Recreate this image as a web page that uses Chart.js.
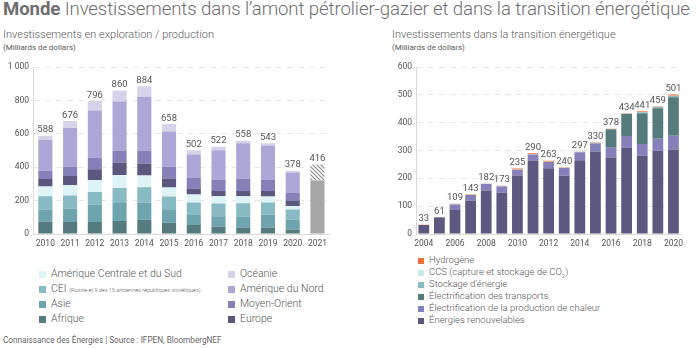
<!DOCTYPE html>
<html>
<head>
<meta charset="utf-8">
<title>Monde - Investissements amont pétrolier-gazier et transition énergétique</title>
<script src="https://cdn.jsdelivr.net/npm/chart.js@4"></script>
<style>
  body { margin:0; background:#fff; font-family:Roboto, sans-serif; color:#606060; width:700px; height:349px; position:relative; overflow:hidden; }
  h1 { position:absolute; left:3px; top:-2px; margin:0; font-size:18.6px; font-weight:300; color:#6e6e6e; white-space:nowrap; letter-spacing:-0.1px; }
  h1 b { font-weight:700; }
  .sub { position:absolute; font-size:11px; font-weight:300; color:#5a5a5a; white-space:nowrap; }
  .unit { position:absolute; font-size:8px; color:#5a5a5a; white-space:nowrap; }
  .box { position:absolute; }
  .legend { position:absolute; font-weight:300; color:#555; white-space:nowrap; }
  .legend i { position:absolute; display:block; }
  .note { position:absolute; left:3px; top:335px; font-size:8.2px; color:#666; white-space:nowrap; }
</style>
</head>
<body>

<h1><b>Monde</b> Investissements dans l’amont pétrolier-gazier et dans la transition énergétique</h1>

<div class="sub" style="left:3px; top:28px;">Investissements en exploration / production</div>
<div class="unit" style="left:3px; top:43px;">(Milliards de dollars)</div>
<div class="sub" style="left:392px; top:28px;">Investissements dans la transition énergétique</div>
<div class="unit" style="left:392px; top:43px;">(Milliards de dollars)</div>

<div class="box" style="left:0; top:56px; width:332px; height:198px;"><canvas id="left"></canvas></div>
<div class="box" style="left:350px; top:56px; width:338px; height:198px;"><canvas id="right"></canvas></div>

<div class="legend" id="legLeft" style="left:0; top:267px; width:350px; height:64px; font-size:10.5px;"></div>
<div class="legend" id="legRight" style="left:350px; top:254px; width:350px; height:80px; font-size:9.5px;"></div>

<div class="note">Connaissance des Énergies | Source : IFPEN, BloombergNEF</div>

<script>
// ---------- exploration / production (left) ----------
const yearsEP = ["2010","2011","2012","2013","2014","2015","2016","2017","2018","2019","2020","2021"];
const afrique   = [74, 72, 72, 78, 86, 68, 54, 44, 38, 38, 26, null];
const asie      = [72, 80, 104, 108, 102, 76, 60, 62, 66, 78, 60, null];
const cei       = [80, 78, 76, 90, 92, 80, 74, 76, 80, 72, 60, null];
const ameriqueCS = [58, 62, 72, 78, 70, 54, 48, 44, 42, 36, 22, null];
const europe    = [46, 56, 64, 74, 72, 54, 36, 32, 32, 34, 30, null];
const moyenOrient = [48, 56, 68, 72, 78, 70, 66, 68, 74, 68, 50, null];
const ameriqueN = [186, 230, 284, 294, 322, 212, 138, 176, 212, 204, 120, null];
const oceanie   = [24, 42, 56, 66, 62, 44, 26, 20, 14, 13, 10, null];
const total2021 = [null, null, null, null, null, null, null, null, null, null, null, 320];
const prevu2021 = [null, null, null, null, null, null, null, null, null, null, null, 96];
const ticksEP = [0, 200, 400, 600, 800, 1000];

// ---------- transition énergétique (right) ----------
const yearsTE = ["2004","2005","2006","2007","2008","2009","2010","2011","2012","2013","2014","2015","2016","2017","2018","2019","2020"];
const renouvelables = [32, 59, 86, 120, 156, 149, 210, 264, 236, 209, 265, 296, 275, 311, 281, 299, 304];
const chaleur       = [0, 1, 20, 20, 24, 22, 21, 22, 23, 28, 29, 29, 35, 41, 42, 43, 49];
const transports    = [0, 0, 0, 0, 0, 0, 0, 0, 0, 0, 0, 1, 66, 79, 111, 110, 138];
const stockage      = [0, 0, 0, 0, 0, 0, 0, 0, 0, 0, 1, 1, 0, 0, 3, 4, 5];
const ccs           = [0, 0, 1, 1, 1, 1, 1, 1, 1, 1, 1, 1, 1, 1, 1, 1, 1];
const hydrogene     = [1, 1, 2, 2, 1, 1, 3, 3, 3, 2, 1, 2, 1, 2, 3, 2, 4];
const ticksTE = [0, 100, 200, 300, 400, 500, 600];

// hatched fill for 2021 forecast
function hatch() {
  const c = document.createElement('canvas');
  c.width = 4; c.height = 4;
  const g = c.getContext('2d');
  g.fillStyle = '#fff';
  g.fillRect(0, 0, 4, 4);
  g.strokeStyle = '#8c8c8c';
  g.lineWidth = 1.2;
  g.beginPath();
  g.moveTo(0, 0); g.lineTo(4, 4);
  g.moveTo(-2, 2); g.lineTo(2, 6);
  g.moveTo(2, -2); g.lineTo(6, 2);
  g.stroke();
  return g.createPattern(c, 'repeat');
}

// total value above each stack
const totals = {
  id: 'totals',
  afterDatasetsDraw(chart) {
    const ctx = chart.ctx;
    ctx.save();
    ctx.font = '9.5px Roboto';
    ctx.fillStyle = '#555';
    ctx.textAlign = 'center';
    ctx.textBaseline = 'bottom';
    chart.data.labels.forEach((lab, i) => {
      let sum = 0, top = null, x = null;
      chart.data.datasets.forEach((ds, d) => {
        const v = ds.data[i];
        if (v) {
          sum += v;
          const el = chart.getDatasetMeta(d).data[i];
          if (top === null || el.y < top) top = el.y;
          x = el.x;
        }
      });
      if (top !== null) ctx.fillText(String(sum), x, top - 1);
    });
    ctx.restore();
  }
};

function axes(ticks, yWidth, everyOther) {
  const xTicks = { font: { size: 8.5, family: 'Roboto' }, color: '#555', padding: 5, maxRotation: 0, autoSkip: false };
  if (everyOther) xTicks.callback = function (v, i) { return i % 2 === 0 ? this.getLabelForValue(v) : ''; };
  return {
    x: {
      stacked: true,
      grid: { display: false, drawTicks: false },
      border: { color: '#d9d9d9' },
      ticks: xTicks,
      afterFit(s) { s.height = 20; }
    },
    y: {
      stacked: true,
      min: ticks[0], max: ticks[ticks.length - 1],
      grid: { color: '#e6e6e6', drawTicks: false },
      border: { color: '#d9d9d9', dash: [6, 5] },
      ticks: {
        padding: 4, font: { size: 8.5, family: 'Roboto' }, color: '#555',
        callback: v => v >= 1000 ? String(v).replace(/(\d)(\d{3})$/, '$1 $2') : v
      },
      afterBuildTicks(s) { s.ticks = ticks.map(v => ({ value: v })); },
      afterFit(s) { s.width = yWidth; }
    }
  };
}

const epSeries = [
  { label: 'Afrique', data: afrique, backgroundColor: '#557b7f' },
  { label: 'Asie', data: asie, backgroundColor: '#6ea4ae' },
  { label: 'CEI', data: cei, backgroundColor: '#88bac3' },
  { label: 'Amérique Centrale et du Sud', data: ameriqueCS, backgroundColor: '#ddf3f6' },
  { label: 'Europe', data: europe, backgroundColor: '#5b577f' },
  { label: 'Moyen-Orient', data: moyenOrient, backgroundColor: '#8580b7' },
  { label: 'Amérique du Nord', data: ameriqueN, backgroundColor: '#aca7d7' },
  { label: 'Océanie', data: oceanie, backgroundColor: '#d5d2ea' },
  { label: '2021', data: total2021, backgroundColor: '#a7a7a7' },
  { label: '2021 prévision', data: prevu2021, backgroundColor: hatch() }
];

new Chart(document.getElementById('left'), {
  type: 'bar',
  data: {
    labels: yearsEP,
    datasets: epSeries.map(s => Object.assign({ barPercentage: 0.57, categoryPercentage: 1, borderWidth: 0 }, s))
  },
  options: {
    responsive: true, maintainAspectRatio: false, animation: false,
    layout: { padding: { top: 11, right: 0, left: 0 } },
    plugins: { legend: { display: false }, tooltip: { enabled: false } },
    scales: axes(ticksEP, 33, false)
  },
  plugins: [totals]
});

const teSeries = [
  { label: 'Énergies renouvelables', data: renouvelables, backgroundColor: '#5c587f' },
  { label: 'Électrification de la production de chaleur', data: chaleur, backgroundColor: '#8580ba' },
  { label: 'Électrification des transports', data: transports, backgroundColor: '#567b7d' },
  { label: 'Stockage d’énergie', data: stockage, backgroundColor: '#88bac3' },
  { label: 'CCS (capture et stockage de CO₂)', data: ccs, backgroundColor: '#c9e8ed' },
  { label: 'Hydrogène', data: hydrogene, backgroundColor: '#e9733b' }
];

new Chart(document.getElementById('right'), {
  type: 'bar',
  data: {
    labels: yearsTE,
    datasets: teSeries.map(s => Object.assign({ barPercentage: 0.69, categoryPercentage: 1, borderWidth: 0 }, s))
  },
  options: {
    responsive: true, maintainAspectRatio: false, animation: false,
    layout: { padding: { top: 11, right: 0 } },
    plugins: { legend: { display: false }, tooltip: { enabled: false } },
    scales: axes(ticksTE, 66, true)
  },
  plugins: [totals]
});

// ---------- HTML legends ----------
function legendItem(parent, x, y, size, color, html) {
  const d = document.createElement('div');
  d.style.position = 'absolute';
  d.style.left = x + 'px';
  d.style.top = y + 'px';
  d.innerHTML = '<i style="left:0; top:4px; width:' + size + 'px; height:' + size + 'px; background:' + color + '"></i>' +
    '<span style="position:absolute; left:' + (size + 5) + 'px; top:0;">' + html + '</span>';
  parent.appendChild(d);
}
const legL = document.getElementById('legLeft');
const colL = [
  [3, 'Amérique Centrale et du Sud'],
  [2, 'CEI <span style="font-size:5.5px">(Russie et 9 des 15 anciennes républiques soviétiques)</span>'],
  [1, 'Asie'],
  [0, 'Afrique']
];
const colR = [
  [7, 'Océanie'], [6, 'Amérique du Nord'], [5, 'Moyen-Orient'], [4, 'Europe']
];
colL.forEach((c, k) => legendItem(legL, 39, k * 15, 7, epSeries[c[0]].backgroundColor, c[1]));
colR.forEach((c, k) => legendItem(legL, 228, k * 15, 7, epSeries[c[0]].backgroundColor, c[1]));

const legR = document.getElementById('legRight');
teSeries.slice().reverse().forEach((s, k) => {
  const lab = s.label === 'CCS (capture et stockage de CO₂)' ? 'CCS (capture et stockage de CO<sub style="font-size:6px">2</sub>)' : s.label;
  legendItem(legR, 68, k * 12, 6, s.backgroundColor, lab);
});
</script>
</body>
</html>
